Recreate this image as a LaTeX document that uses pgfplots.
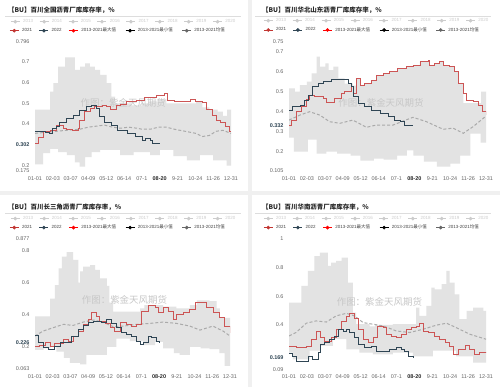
\documentclass[border=0pt]{standalone}
\usepackage{pgfplots}
\pgfplotsset{compat=1.18}
\usepgfplotslibrary{fillbetween}
\usepackage{fontspec}
\setmainfont{Liberation Sans}
\newfontfamily\cjk{Noto Sans CJK SC}
\definecolor{cA}{HTML}{C23531}
\definecolor{cAl}{HTML}{CC5555}
\definecolor{cB}{HTML}{2F4554}
\definecolor{band}{HTML}{E3E3E3}
\definecolor{meanc}{HTML}{AAAAAA}
\definecolor{fade}{HTML}{CCCCCC}
\definecolor{tickc}{HTML}{666666}
\definecolor{bgc}{HTML}{F0F0F0}
\definecolor{sepc}{HTML}{DDDDDD}

\tikzset{wm/.style={font=\cjk\fontsize{9.5}{10}\selectfont, text=black!22}}
\tikzset{fill between/on layer=main}
\pgfplotsset{
  panel/.style={
    scale only axis, anchor=south west,
    xmin=1, xmax=365, enlargelimits=false,
    axis lines=left, axis line style={-, draw=tickc, line width=0.5bp},
    tick align=outside, major tick length=2bp,
    tick style={draw=tickc, line width=0.4bp},
    xtick={1,34.1,67.2,100.3,133.4,166.5,199.5,232.6,265.7,298.8,331.9,365},
    xticklabels={01-01,02-03,03-07,04-09,05-12,06-14,07-1,\textbf{\textcolor{black!85}{08-20}},9-21,10-24,11-26,12-31},
    ticklabel style={font=\fontsize{5.5}{6}\selectfont, text=tickc},
    ymajorgrids, grid style={draw=black!7, line width=0.4bp},
    extra y tick style={grid=none},
  },
  l21/.style={draw=cAl, line width=0.65bp, const plot},
  l22/.style={draw=cB, line width=0.65bp, const plot},
  meanl/.style={draw=meanc, line width=1bp, dash pattern=on 3bp off 2bp},
  legrow/.style={
    at={(0bp,0bp)}, anchor=south west, scale only axis, width=500bp, height=387bp,
    hide axis, xmin=0, xmax=500, ymin=0, ymax=387,
    legend columns=-1,
    legend style={draw=none, fill=none, inner sep=0pt, outer sep=0pt, anchor=west,
      font=\fontsize{4.5}{5}\selectfont,
      /tikz/every odd column/.append style={column sep=3bp},
      nodes={inner sep=0pt}},
    legend image code/.code={\draw[mark repeat=2,mark phase=2,##1] plot coordinates {(0bp,0bp) (4.5bp,0bp) (9bp,0bp)};},
  },
  lm/.style={mark=*, mark size=1.5bp, line width=0.6bp},
}

\newcommand{\rowone}{%
\addlegendimage{fade,lm}\addlegendentry{\makebox[16.3bp][l]{2013}}%
\addlegendimage{fade,lm}\addlegendentry{\makebox[16.3bp][l]{2014}}%
\addlegendimage{fade,lm}\addlegendentry{\makebox[16.3bp][l]{2015}}%
\addlegendimage{fade,lm}\addlegendentry{\makebox[16.3bp][l]{2016}}%
\addlegendimage{fade,lm}\addlegendentry{\makebox[16.3bp][l]{2017}}%
\addlegendimage{fade,lm}\addlegendentry{\makebox[16.3bp][l]{2018}}%
\addlegendimage{fade,lm}\addlegendentry{\makebox[16.3bp][l]{2019}}%
\addlegendimage{fade,lm}\addlegendentry{2020}%
}
\newcommand{\rowtwo}{%
\addlegendimage{cA,lm}\addlegendentry{\makebox[17bp][l]{2021}}%
\addlegendimage{cB,lm}\addlegendentry{\makebox[17bp][l]{2022}}%
\addlegendimage{red,lm}\addlegendentry{\makebox[44bp][l]{2013-2021{\cjk 最大值}}}%
\addlegendimage{black,lm}\addlegendentry{\makebox[44bp][l]{2013-2021{\cjk 最小值}}}%
\addlegendimage{black!60,lm}\addlegendentry{2013-2021{\cjk 均值}}%
}

\begin{document}
\begin{tikzpicture}
% backgrounds
\fill[bgc] (0bp,0bp) rectangle (500bp,387bp);
\fill[white] (0bp,196bp) rectangle (248bp,387bp);
\fill[white] (252bp,196bp) rectangle (500bp,387bp);
\fill[white] (0bp,0bp) rectangle (248bp,192bp);
\fill[white] (252bp,0bp) rectangle (500bp,192bp);
% titles
\node[anchor=west, font=\cjk\bfseries\fontsize{6.5}{7}\selectfont, text=black!85, inner sep=0pt] at (8bp,377bp) {【BU】百川全国沥青厂库库存率，\%};
\node[anchor=west, font=\cjk\bfseries\fontsize{6.5}{7}\selectfont, text=black!85, inner sep=0pt] at (262bp,377bp) {【BU】百川华北山东沥青厂库库存率，\%};
\node[anchor=west, font=\cjk\bfseries\fontsize{6.5}{7}\selectfont, text=black!85, inner sep=0pt] at (8bp,180bp) {【BU】百川长三角沥青厂库库存率，\%};
\node[anchor=west, font=\cjk\bfseries\fontsize{6.5}{7}\selectfont, text=black!85, inner sep=0pt] at (262bp,180bp) {【BU】百川华南沥青厂库库存率，\%};
\draw[sepc, line width=0.5bp] (5bp,371bp) -- (241bp,371bp);
\draw[sepc, line width=0.5bp] (255bp,371bp) -- (491bp,371bp);
\draw[sepc, line width=0.5bp] (5bp,174bp) -- (241bp,174bp);
\draw[sepc, line width=0.5bp] (255bp,174bp) -- (491bp,174bp);

% ---------- Panel 1 ----------
\begin{axis}[panel, at={(35bp,216.3bp)}, width=196bp, height=128.7bp,
  ymin=0.175, ymax=0.796,
  ytick={0.2,0.3,0.4,0.5,0.6,0.7}, yticklabels={0.2,,0.4,0.5,0.6,0.7},
  extra y ticks={0.175,0.302,0.796},
  extra y tick labels={0.175,\textbf{\textcolor{cB}{0.302}},0.796}]
\addplot[draw=none, name path=hiA, const plot, forget plot] coordinates {(1,0.47)(22,0.47)(29,0.556)(35,0.597)(44,0.677)(57,0.722)(75,0.661)(85,0.677)(94,0.693)(103,0.677)(112,0.661)(122,0.637)(134,0.597)(143,0.532)(150,0.5)(165,0.5)(180,0.49)(200,0.5)(215,0.51)(230,0.52)(245,0.5)(260,0.5)(280,0.5)(300,0.51)(312,0.48)(325,0.47)(340,0.46)(350,0.44)(358,0.47)(365,0.43)};
\addplot[draw=none, name path=loA, const plot, forget plot] coordinates {(1,0.205)(16,0.26)(29,0.28)(44,0.265)(60,0.25)(75,0.215)(84,0.195)(94,0.24)(106,0.265)(122,0.275)(140,0.275)(159,0.25)(184,0.265)(215,0.25)(233,0.275)(258,0.245)(283,0.225)(307,0.25)(332,0.225)(357,0.2)(365,0.2)};
\addplot[fill=band, draw=none, forget plot] fill between[of=hiA and loA];
\node[wm] at (axis cs:165,0.502) {作图：紫金天风期货};
\addplot[meanl] coordinates {(1,0.355)(20,0.36)(40,0.365)(60,0.37)(84,0.375)(100,0.385)(115,0.39)(130,0.395)(145,0.385)(160,0.38)(175,0.385)(190,0.38)(200,0.375)(215,0.375)(230,0.385)(245,0.385)(260,0.375)(280,0.365)(300,0.355)(312,0.34)(325,0.345)(337,0.365)(350,0.37)(365,0.355)};
\addplot[l21] coordinates {(1,0.307)(8,0.335)(16,0.363)(29,0.37)(41,0.395)(53,0.38)(60,0.375)(70,0.37)(81,0.38)(84,0.42)(93,0.46)(103,0.476)(112,0.487)(126,0.49)(133,0.485)(140,0.47)(152,0.49)(160,0.495)(170,0.508)(189,0.516)(204,0.53)(216,0.53)(226,0.54)(241,0.548)(247,0.516)(260,0.512)(280,0.512)(290,0.52)(298,0.51)(312,0.505)(320,0.47)(330,0.44)(337,0.42)(345,0.41)(355,0.39)(362,0.365)(365,0.365)};
\addplot[l22] coordinates {(1,0.363)(20,0.36)(28,0.355)(34,0.38)(41,0.39)(47,0.41)(60,0.427)(72,0.44)(84,0.468)(96,0.487)(105,0.492)(114,0.476)(120,0.436)(129,0.41)(142,0.395)(154,0.372)(172,0.355)(188,0.339)(200,0.323)(206,0.33)(216,0.32)(219,0.307)(231,0.302)};
\end{axis}

% ---------- Panel 2 ----------
\begin{axis}[panel, at={(289bp,216.3bp)}, width=197bp, height=129bp,
  ymin=0.105, ymax=0.75,
  ytick={0.2,0.3,0.4,0.5,0.6,0.7}, yticklabels={0.2,0.3,0.4,0.5,0.6,0.7},
  extra y ticks={0.105,0.332,0.75},
  extra y tick labels={0.105,\textbf{\textcolor{cB}{0.332}},0.75}]
\addplot[draw=none, name path=hiB, const plot, forget plot] coordinates {(1,0.517)(12,0.5)(21,0.533)(34,0.55)(43,0.592)(52,0.675)(58,0.625)(68,0.642)(74,0.608)(83,0.625)(92,0.567)(104,0.54)(119,0.53)(125,0.567)(132,0.533)(141,0.54)(153,0.558)(162,0.583)(175,0.592)(187,0.6)(202,0.617)(218,0.625)(230,0.633)(243,0.65)(258,0.658)(261,0.633)(270,0.642)(279,0.65)(286,0.633)(298,0.628)(307,0.6)(313,0.542)(323,0.443)(356,0.5)(365,0.5)};
\addplot[draw=none, name path=loB, const plot, forget plot] coordinates {(1,0.27)(10,0.2)(30,0.2)(36,0.26)(52,0.19)(70,0.2)(90,0.19)(115,0.18)(133,0.155)(158,0.165)(176,0.16)(201,0.18)(219,0.207)(231,0.18)(250,0.15)(274,0.125)(299,0.14)(317,0.18)(336,0.29)(355,0.245)(365,0.245)};
\addplot[fill=band, draw=none, forget plot] fill between[of=hiB and loB];
\node[wm] at (axis cs:171,0.444) {作图：紫金天风期货};
\addplot[meanl] coordinates {(1,0.358)(21,0.383)(39,0.4)(58,0.383)(76,0.35)(95,0.342)(119,0.358)(144,0.322)(162,0.333)(193,0.333)(230,0.372)(255,0.35)(286,0.312)(304,0.318)(323,0.292)(341,0.325)(365,0.378)};
\addplot[l21] coordinates {(1,0.333)(5,0.358)(15,0.4)(24,0.425)(33,0.46)(39,0.483)(48,0.478)(58,0.478)(64,0.467)(70,0.445)(82,0.445)(85,0.467)(98,0.492)(104,0.5)(116,0.525)(119,0.49)(125,0.567)(132,0.533)(141,0.54)(153,0.558)(162,0.583)(175,0.592)(187,0.6)(202,0.617)(218,0.625)(230,0.633)(243,0.65)(258,0.658)(261,0.633)(270,0.642)(279,0.65)(286,0.633)(298,0.628)(307,0.6)(313,0.542)(323,0.492)(329,0.458)(341,0.45)(350,0.433)(359,0.4)(365,0.385)};
\addplot[l22] coordinates {(1,0.408)(8,0.425)(21,0.433)(30,0.458)(36,0.483)(45,0.525)(55,0.542)(64,0.553)(79,0.562)(101,0.562)(110,0.542)(116,0.525)(119,0.475)(129,0.442)(141,0.425)(153,0.408)(169,0.392)(184,0.375)(196,0.358)(206,0.35)(215,0.333)(224,0.332)(230,0.332)};
\end{axis}

% ---------- Panel 3 ----------
\begin{axis}[panel, at={(35bp,18.3bp)}, width=195bp, height=130.4bp,
  ymin=0.063, ymax=0.877,
  ytick={0.2,0.4,0.6,0.8}, yticklabels={0.2,0.4,0.6,0.8},
  extra y ticks={0.063,0.226,0.877},
  extra y tick labels={0.063,\textbf{\textcolor{cB}{0.226}},0.877}]
\addplot[draw=none, name path=hiC, const plot, forget plot] coordinates {(1,0.39)(22,0.39)(29,0.5)(38,0.585)(45,0.69)(51,0.762)(60,0.79)(72,0.742)(82,0.6)(85,0.67)(91,0.7)(104,0.71)(113,0.68)(122,0.627)(135,0.58)(140,0.475)(147,0.42)(197,0.44)(205,0.46)(240,0.45)(265,0.44)(290,0.46)(303,0.49)(327,0.485)(340,0.44)(346,0.38)(365,0.38)};
\addplot[draw=none, name path=loC, const plot, forget plot] coordinates {(1,0.18)(17,0.19)(30,0.2)(41,0.17)(55,0.13)(66,0.1)(85,0.09)(97,0.15)(120,0.15)(135,0.2)(153,0.25)(178,0.235)(203,0.21)(225,0.23)(240,0.19)(260,0.16)(271,0.15)(290,0.2)(310,0.19)(327,0.185)(345,0.16)(355,0.08)(365,0.08)};
\addplot[fill=band, draw=none, forget plot] fill between[of=hiC and loC];
\node[wm] at (axis cs:168,0.492) {作图：紫金天风期货};
\addplot[meanl] coordinates {(1,0.267)(16,0.298)(35,0.319)(54,0.34)(72,0.333)(91,0.354)(110,0.367)(128,0.354)(147,0.325)(166,0.329)(191,0.34)(216,0.346)(240,0.354)(265,0.346)(290,0.329)(309,0.304)(333,0.329)(352,0.298)(365,0.267)};
\addplot[l21] coordinates {(1,0.2)(10,0.21)(20,0.229)(29,0.2)(38,0.221)(54,0.246)(63,0.237)(73,0.267)(82,0.298)(91,0.34)(101,0.371)(107,0.417)(116,0.392)(122,0.36)(132,0.346)(141,0.319)(150,0.298)(160,0.35)(172,0.34)(181,0.329)(191,0.34)(200,0.423)(212,0.458)(225,0.444)(231,0.413)(240,0.444)(250,0.423)(259,0.371)(265,0.402)(278,0.413)(290,0.433)(300,0.475)(312,0.475)(321,0.444)(334,0.413)(346,0.381)(355,0.329)(365,0.287)};
\addplot[l22] coordinates {(1,0.271)(7,0.225)(17,0.194)(26,0.183)(38,0.2)(48,0.225)(57,0.225)(69,0.267)(82,0.308)(91,0.333)(101,0.354)(110,0.36)(125,0.354)(135,0.371)(144,0.346)(153,0.319)(163,0.287)(172,0.277)(181,0.262)(191,0.235)(197,0.215)(203,0.225)(212,0.267)(219,0.256)(227,0.235)(233,0.226)};
\end{axis}

% ---------- Panel 4 ----------
\begin{axis}[panel, at={(289bp,17.7bp)}, width=197bp, height=130.3bp,
  ymin=0.09, ymax=1,
  ytick={0.2,0.4,0.6,0.8}, yticklabels={,0.4,0.6,0.8},
  extra y ticks={0.09,0.169,1},
  extra y tick labels={0.09,\textbf{\textcolor{cB}{0.169}},1}]
\addplot[draw=none, name path=hiD, const plot, forget plot] coordinates {(1,0.556)(24,0.672)(36,0.777)(48,0.881)(58,0.905)(73,0.812)(79,0.835)(88,0.847)(98,0.87)(110,0.695)(119,0.486)(125,0.405)(150,0.39)(160,0.40)(193,0.405)(236,0.521)(242,0.463)(255,0.533)(264,0.66)(270,0.649)(283,0.684)(292,0.777)(298,0.695)(307,0.614)(316,0.44)(329,0.498)(341,0.521)(360,0.498)(365,0.498)};
\addplot[draw=none, name path=loD, const plot, forget plot] coordinates {(1,0.207)(8,0.16)(39,0.22)(58,0.253)(82,0.3)(107,0.23)(131,0.207)(156,0.195)(193,0.207)(230,0.18)(267,0.22)(310,0.18)(341,0.137)(365,0.137)};
\addplot[fill=band, draw=none, forget plot] fill between[of=hiD and loD];
\node[wm] at (axis cs:168,0.56) {作图：紫金天风期货};
\addplot[meanl] coordinates {(1,0.323)(14,0.347)(33,0.412)(51,0.428)(70,0.42)(88,0.463)(107,0.481)(122,0.463)(138,0.416)(156,0.405)(175,0.393)(199,0.358)(224,0.347)(249,0.37)(273,0.398)(292,0.412)(310,0.381)(335,0.335)(365,0.3)};
\addplot[l21] coordinates {(1,0.253)(14,0.242)(33,0.253)(42,0.3)(51,0.358)(58,0.312)(67,0.288)(79,0.312)(88,0.37)(98,0.428)(107,0.463)(113,0.481)(122,0.444)(129,0.37)(138,0.3)(147,0.281)(156,0.312)(165,0.393)(175,0.381)(181,0.335)(190,0.323)(199,0.312)(209,0.337)(218,0.37)(227,0.381)(236,0.393)(242,0.412)(249,0.358)(258,0.347)(270,0.323)(279,0.3)(289,0.277)(298,0.253)(304,0.195)(313,0.23)(326,0.256)(335,0.23)(344,0.195)(353,0.207)(365,0.21)};
\addplot[l22] coordinates {(1,0.202)(8,0.179)(14,0.149)(36,0.179)(45,0.16)(55,0.207)(58,0.265)(67,0.277)(76,0.3)(85,0.323)(92,0.37)(101,0.358)(107,0.37)(113,0.347)(122,0.312)(129,0.265)(141,0.242)(153,0.249)(162,0.219)(175,0.219)(187,0.23)(199,0.242)(209,0.23)(215,0.219)(221,0.184)(230,0.169)};
\end{axis}

% ---------- legends ----------
\begin{axis}[legrow, legend style={at={(0.021,0.9439)}, text=fade}]\rowone\end{axis}
\begin{axis}[legrow, legend style={at={(0.019,0.9207)}, text=black!75}]\rowtwo\end{axis}
\begin{axis}[legrow, legend style={at={(0.527,0.9465)}, text=fade}]\rowone\end{axis}
\begin{axis}[legrow, legend style={at={(0.527,0.9225)}, text=black!75}]\rowtwo\end{axis}
\begin{axis}[legrow, legend style={at={(0.021,0.4351)}, text=fade}]\rowone\end{axis}
\begin{axis}[legrow, legend style={at={(0.019,0.4119)}, text=black!75}]\rowtwo\end{axis}
\begin{axis}[legrow, legend style={at={(0.527,0.4351)}, text=fade}]\rowone\end{axis}
\begin{axis}[legrow, legend style={at={(0.527,0.4119)}, text=black!75}]\rowtwo\end{axis}
\end{tikzpicture}
\end{document}
